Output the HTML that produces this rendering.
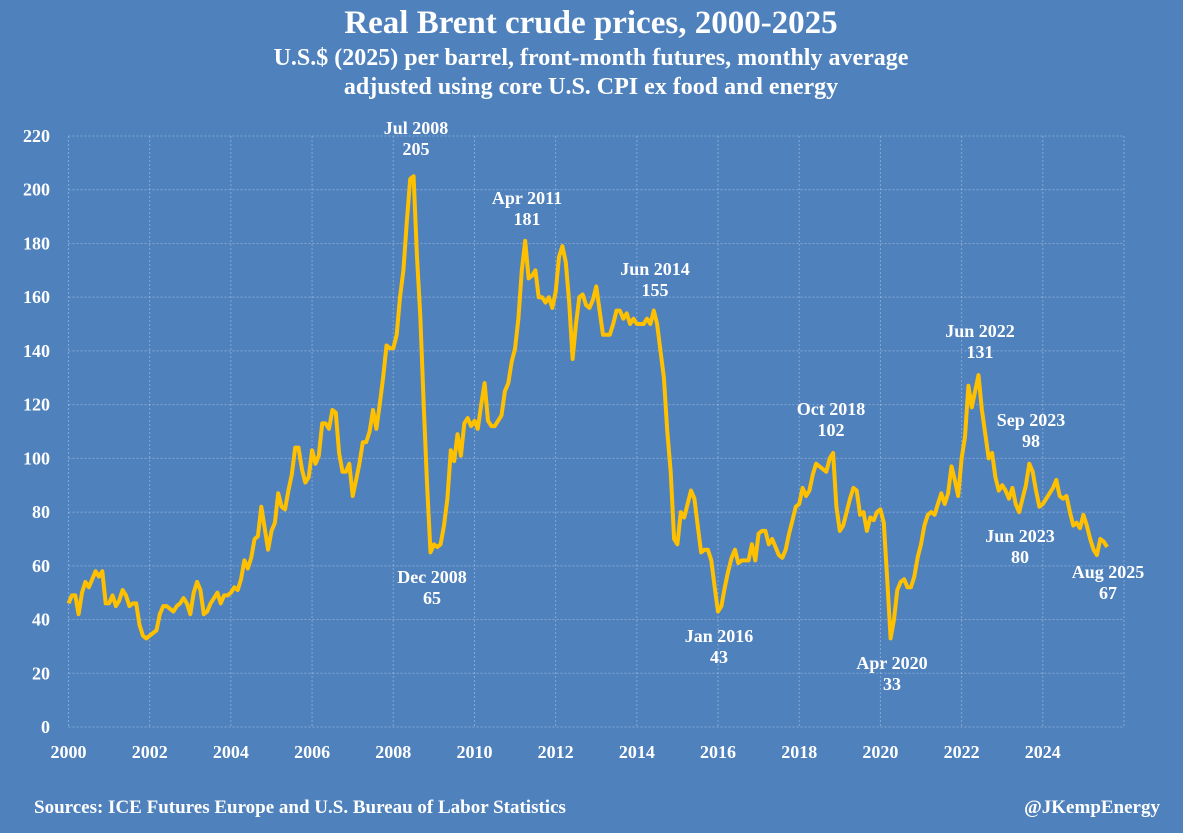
<!DOCTYPE html>
<html><head><meta charset="utf-8"><style>
html,body{margin:0;padding:0;background:#4f81bd;}
svg{display:block;font-family:"Liberation Serif",serif;font-weight:bold;fill:#fff;}
</style></head><body>
<svg id="c" width="1183" height="833">
<rect width="1183" height="833" fill="#4f81bd"/>
<text x="591" y="33" font-size="33" text-anchor="middle">Real Brent crude prices, 2000-2025</text>
<text x="591" y="65" font-size="24" text-anchor="middle">U.S.$ (2025) per barrel, front-month futures, monthly average</text>
<text x="591" y="94" font-size="24" text-anchor="middle">adjusted using core U.S. CPI ex food and energy</text>
<g id="grid"></g>
<g id="yax"></g>
<g id="xax"></g>
<g id="series"></g>
<g id="ann"></g>
<text x="34" y="813" font-size="19">Sources: ICE Futures Europe and U.S. Bureau of Labor Statistics</text>
<text x="1160" y="813" font-size="19" text-anchor="end">@JKempEnergy</text>
</svg>
<script>
const startYear = 2000;
const prices = [
46,49,49,42,50,54,52,55,58,56,58,46,
46,49,45,47,51,49,45,46,46,38,34,33,
34,35,36,42,45,45,44,43,45,46,48,46,
42,50,54,51,42,43,46,48,50,46,49,49,
50,52,51,55,62,59,63,70,71,82,74,66,
73,76,87,82,81,88,94,104,104,96,91,93,
103,98,101,113,113,111,118,117,102,95,95,98,
86,92,98,106,106,110,118,111,120,130,142,141,
141,146,160,170,188,204,205,175,153,120,90,65,
68,67,68,75,85,103,99,109,101,113,115,112,
114,111,120,128,114,112,112,114,116,125,128,136,
141,152,170,181,167,168,170,160,160,158,160,156,
162,175,179,173,158,137,150,160,161,157,156,159,
164,155,146,146,146,150,155,155,152,154,150,152,
150,150,150,152,150,155,150,140,130,110,95,70,
68,80,78,83,88,85,75,65,66,66,62,52,
43,45,52,58,63,66,61,62,62,62,68,62,
72,73,73,68,70,67,64,63,66,72,77,82,
83,89,86,88,94,98,97,96,95,100,102,82,
73,75,80,85,89,88,79,80,73,78,77,80,
81,76,55,33,40,51,54,55,52,52,56,63,
68,75,79,80,79,83,87,83,87,97,92,86,
100,108,127,119,125,131,118,109,100,102,93,88,
90,88,85,89,83,80,85,90,98,95,88,82,
83,85,87,89,92,86,85,86,80,75,76,74,
79,75,70,66,64,70,69,67];
const yTicks = [0,20,40,60,80,100,120,140,160,180,200,220];
const xTicks = [2000,2002,2004,2006,2008,2010,2012,2014,2016,2018,2020,2022,2024];
const annLabels = ["Jul 2008","Apr 2011","Jun 2014","Dec 2008","Oct 2018","Jun 2022","Sep 2023","Jan 2016","Apr 2020","Jun 2023","Aug 2025"];
const annValues = ["205","181","155","65","102","131","98","43","33","80","67"];
const annPos = [[416,128],[527,198],[655,269],[432,577],[831,409],[980,331],[1031,420],[719,636],[892,663],[1020,536],[1108,572]];

const L=68.5,R=1124,T=136,B=727,yMax=220,xMin=2000,xMax=2026;
const xs=v=>L+(v-xMin)/(xMax-xMin)*(R-L);
const ys=v=>B-v/yMax*(B-T);
const NS="http://www.w3.org/2000/svg";
function mk(tag,parent,attrs){const e=document.createElementNS(NS,tag);for(const k in attrs)e.setAttribute(k,attrs[k]);parent.appendChild(e);return e;}
const grid=document.getElementById('grid'),yax=document.getElementById('yax'),xax=document.getElementById('xax');
yTicks.forEach(t=>{
  const l=mk('line',grid,{x1:L,x2:R,y1:ys(t),y2:ys(t),stroke:'rgba(255,255,255,0.3)','stroke-width':1,'stroke-dasharray':'2,2'});
  
  
  const tx=mk('text',yax,{x:50,y:ys(t)+6,'font-size':18,'text-anchor':'end'});
  tx.textContent=t;
  
  
});
[2000,2002,2004,2006,2008,2010,2012,2014,2016,2018,2020,2022,2024,2026].forEach(t=>{
  const l=mk('line',grid,{x1:xs(t),x2:xs(t),y1:T,y2:B,stroke:'rgba(255,255,255,0.3)','stroke-width':1,'stroke-dasharray':'2,2'});
  
  
});
xTicks.forEach(t=>{
  const tx=mk('text',xax,{x:xs(t),y:758,'font-size':18,'text-anchor':'middle'});
  tx.textContent=t;
  
  
});
const pts=prices.map((v,i)=>xs(startYear+i/12).toFixed(1)+','+ys(v).toFixed(1)).join(' ');
const pl=mk('polyline',document.getElementById('series'),{points:pts,fill:'none',stroke:'#ffc000','stroke-width':4,'stroke-linejoin':'round'});


const ann=document.getElementById('ann');
annLabels.forEach((lab,i)=>{
  const [x,y]=annPos[i];
  const t1=mk('text',ann,{x:x,y:y+6,'font-size':18,'text-anchor':'middle'});
  t1.textContent=lab;
  
  
  const t2=mk('text',ann,{x:x,y:y+27,'font-size':18,'text-anchor':'middle'});
  t2.textContent=annValues[i];
  
  
});
</script>
</body></html>
